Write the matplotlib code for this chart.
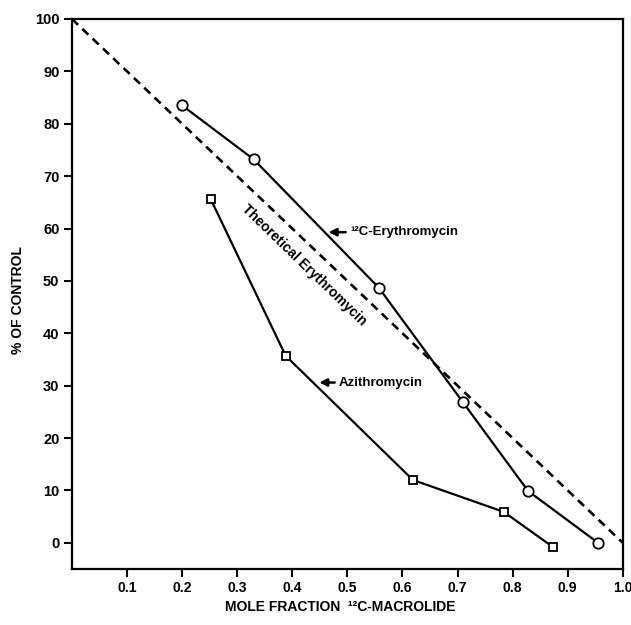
import matplotlib
matplotlib.use('Agg')
import matplotlib.pyplot as plt

plt.rcParams['font.family'] = ['Liberation Sans', 'DejaVu Sans']
plt.rcParams['font.weight'] = 'bold'

# 12C-Erythromycin (open circles)
ery_x = [0.20, 0.33, 0.557, 0.71, 0.828, 0.955]
ery_y = [83.5, 73.2, 48.7, 26.8, 9.9, 0.0]

# Azithromycin (open squares)
azi_x = [0.252, 0.388, 0.619, 0.784, 0.873]
azi_y = [65.6, 35.7, 12.0, 5.9, -0.8]

# theoretical line
theo_x = [0.0, 1.0]
theo_y = [100.0, 0.0]

x_ticks = [0.1, 0.2, 0.3, 0.4, 0.5, 0.6, 0.7, 0.8, 0.9, 1.0]
x_labels = ['0.1', '0.2', '0.3', '0.4', '0.5', '0.6', '0.7', '0.8', '0.9', '1.0']
y_ticks = list(range(0, 101, 10))

fig = plt.figure(figsize=(6.31, 6.25), dpi=100)
ax = fig.add_axes([0.114, 0.0896, 0.873, 0.880])

ax.plot(theo_x, theo_y, color='black', lw=1.9, ls=(0, (3.2, 2.2)))
ax.plot(ery_x, ery_y, color='black', lw=1.6, marker='o', ms=7.5,
        mfc='white', mec='black', mew=1.3)
ax.plot(azi_x, azi_y, color='black', lw=1.6, marker='s', ms=6,
        mfc='white', mec='black', mew=1.3)

ax.text(0.422, 53.0, 'Theoretical Erythromycin', rotation=-44,
        ha='center', va='center', fontsize=10, fontweight='bold')

# labels with arrows
ax.annotate('', xy=(0.466, 59.3), xytext=(0.497, 59.3),
            arrowprops=dict(arrowstyle='-|>', color='black', lw=1.8,
                            mutation_scale=11, shrinkA=0, shrinkB=0))
ax.text(0.505, 59.3, '\u00b9\u00b2C-Erythromycin', ha='left',
        va='center', fontsize=9.5, fontweight='bold')
ax.annotate('', xy=(0.449, 30.6), xytext=(0.477, 30.6),
            arrowprops=dict(arrowstyle='-|>', color='black', lw=1.8,
                            mutation_scale=11, shrinkA=0, shrinkB=0))
ax.text(0.484, 30.6, 'Azithromycin', ha='left', va='center',
        fontsize=9.5, fontweight='bold')

ax.set_xlim(0, 1.0)
ax.set_ylim(-5, 100)
ax.set_xticks(x_ticks)
ax.set_xticklabels(x_labels)
ax.set_yticks(y_ticks)
ax.tick_params(direction='out', length=6, width=1.5, labelsize=10.5, pad=3)
ax.tick_params(axis='x', labelsize=10)
for s in ax.spines.values():
    s.set_linewidth(1.6)

fig.text(0.54, 0.029, 'MOLE FRACTION  \u00b9\u00b2C-MACROLIDE', ha='center',
         va='center', fontsize=10, fontweight='bold')
fig.text(0.029, 0.52, '% OF CONTROL', rotation=90, ha='center', va='center',
         fontsize=10, fontweight='bold')

fig.savefig('out.png', dpi=100)
